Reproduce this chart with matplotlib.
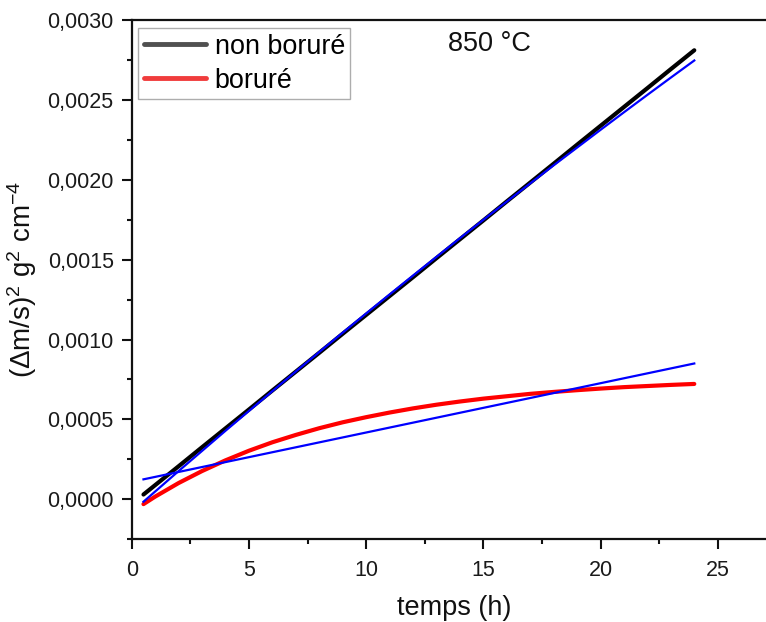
import matplotlib
matplotlib.use("Agg")
import matplotlib.pyplot as plt
from matplotlib.ticker import MultipleLocator, FuncFormatter

plt.rcParams['font.family'] = ['Liberation Sans', 'DejaVu Sans']
plt.rcParams['mathtext.fontset'] = 'custom'
plt.rcParams['mathtext.rm'] = 'Liberation Sans'
plt.rcParams['mathtext.it'] = 'Liberation Sans:italic'

# time (h)
t = [0.5, 1, 2, 3, 4, 5, 6, 7, 8, 9, 10, 11, 12, 13, 14, 15, 16, 17, 18,
     19, 20, 21, 22, 23, 24]

# (Δm/s)² for the non-borided sample
non_bor = [0.00003, 0.000089, 0.000207, 0.000326, 0.000444, 0.000562,
           0.000681, 0.000799, 0.000917, 0.001036, 0.001154, 0.001272,
           0.001390, 0.001509, 0.001627, 0.001745, 0.001864, 0.001982,
           0.002100, 0.002219, 0.002337, 0.002455, 0.002573, 0.002692,
           0.00281]

# fitted curve for the non-borided sample
non_bor_fit = [-0.000015, 0.000049, 0.000177, 0.000303, 0.000429, 0.000553,
               0.000677, 0.0008, 0.000922, 0.001043, 0.001163, 0.001282,
               0.0014, 0.001517, 0.001634, 0.001749, 0.001863, 0.001977,
               0.00209, 0.002201, 0.002312, 0.002422, 0.002531, 0.002639,
               0.002746]

# (Δm/s)² for the borided sample
bor = [-0.00003, 0.000017, 0.000102, 0.000177, 0.000244, 0.000304,
       0.000357, 0.000403, 0.000445, 0.000482, 0.000514, 0.000543,
       0.000569, 0.000592, 0.000612, 0.00063, 0.000645, 0.00066,
       0.000672, 0.000683, 0.000693, 0.000702, 0.000709, 0.000716,
       0.000722]

# linear fit for the borided sample
bor_fit_t = [0.5, 24]
bor_fit = [0.000125, 0.00085]

fig = plt.figure(figsize=(7.66, 6.22), dpi=100)
ax = fig.add_axes([0.172, 0.133, 0.828, 0.835])

l1, = ax.plot(t, non_bor, color='black', lw=3.0, solid_capstyle='round', zorder=3)
ax.plot(t, non_bor_fit, color='#0000ff', lw=1.6, zorder=4)
l2, = ax.plot(t, bor, color='#ff0000', lw=3.0, solid_capstyle='round', zorder=3)
ax.plot(bor_fit_t, bor_fit, color='#0000ff', lw=1.6, zorder=4)

ax.set_xlim(0, 27.06)
ax.set_ylim(-0.00025, 0.0030)
ax.xaxis.set_major_locator(MultipleLocator(5))
ax.xaxis.set_minor_locator(MultipleLocator(2.5))
ax.yaxis.set_major_locator(MultipleLocator(0.0005))
ax.yaxis.set_minor_locator(MultipleLocator(0.00025))
ax.yaxis.set_major_formatter(FuncFormatter(lambda v, p: f"{v:.4f}".replace('.', ',')))

for side in ('left', 'bottom', 'top'):
    ax.spines[side].set_linewidth(1.6)
    ax.spines[side].set_color('#111111')
ax.spines['right'].set_visible(False)

ax.tick_params(which='major', direction='out', length=7, width=1.5,
               labelsize=15.5, pad=6, colors='#111111', labelcolor='#1a1a1a')
ax.tick_params(axis='x', which='major', pad=8)
ax.tick_params(which='minor', direction='out', length=3.5, width=1.5, colors='#111111')
ax.tick_params(top=False, right=False, which='both')

ax.set_xlabel('temps (h)', fontsize=19.5, color='#111111')
ax.xaxis.set_label_coords(0.509, -0.107)
ax.set_ylabel('(Δm/s)$^2$ g$^2$ cm$^{-4}$', fontsize=20, color='#111111', labelpad=6)

leg = ax.legend([l1, l2], ['non boruré', 'boruré'], loc='upper left',
                bbox_to_anchor=(0.0104, 0.984), borderaxespad=0, fontsize=19.4,
                frameon=True, fancybox=False, handlelength=2.3,
                handletextpad=0.33, borderpad=0.2, labelspacing=0.3)
leg.get_frame().set_edgecolor('#999999')
leg.get_frame().set_linewidth(1.0)
leg.legend_handles[0].set_color('#505050')
leg.legend_handles[1].set_color('#f03c3c')
for h in leg.legend_handles:
    h.set_linewidth(3.5)

ax.text(0.498, 0.953, '850 °C', transform=ax.transAxes, fontsize=19.5,
        color='#111111', ha='left', va='center')

fig.savefig('out.png', dpi=100)
